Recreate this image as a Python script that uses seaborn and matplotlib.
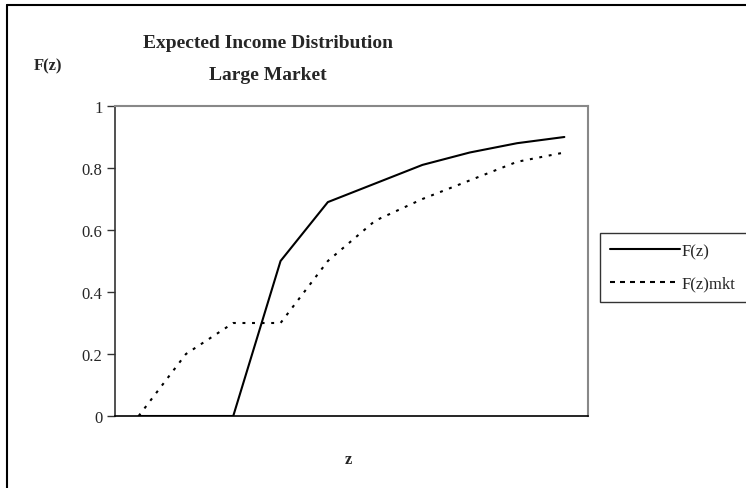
import matplotlib
matplotlib.use("Agg")
import matplotlib.pyplot as plt
from matplotlib.lines import Line2D
import seaborn as sns
import pandas as pd

# Cumulative distributions over ten income categories
categories = list(range(1, 11))
f_z = [0.0, 0.0, 0.0, 0.50, 0.69, 0.75, 0.81, 0.85, 0.88, 0.90]
f_z_mkt = [0.0, 0.20, 0.30, 0.30, 0.50, 0.63, 0.70, 0.76, 0.82, 0.85]
y_ticks = [0, 0.2, 0.4, 0.6, 0.8, 1]
y_tick_labels = ["0", "0.2", "0.4", "0.6", "0.8", "1"]

df = pd.DataFrame({
    "z": categories * 2,
    "F": f_z + f_z_mkt,
    "series": ["F(z)"] * len(f_z) + ["F(z)mkt"] * len(f_z_mkt),
})

sns.set_style("white")
plt.rcParams["font.family"] = ["Liberation Serif", "DejaVu Serif"]

fig = plt.figure(figsize=(7.46, 4.89), dpi=100)
ax = fig.add_axes([115 / 746, 1 - 417 / 489, (588 - 115) / 746, (417 - 107) / 489])

sns.lineplot(data=df, x="z", y="F", hue="series", style="series",
             palette={"F(z)": "black", "F(z)mkt": "black"},
             dashes={"F(z)": "", "F(z)mkt": (1.4, 3.2)},
             linewidth=1.5, ax=ax, legend=False)

ax.set_xlim(0.5, 10.5)
ax.set_ylim(0, 1)
ax.set_yticks(y_ticks)
ax.set_yticklabels(y_tick_labels, fontsize=12)
ax.set_xticks([])
ax.tick_params(axis="y", direction="out", length=6, width=1, color="#333333",
               left=True, pad=3)
ax.set_xlabel("")
ax.set_ylabel("")

for side in ["top", "right"]:
    ax.spines[side].set_color("#888888")
    ax.spines[side].set_linewidth(1.5)
ax.spines["left"].set_color("#333333")
ax.spines["left"].set_linewidth(1.2)
ax.spines["bottom"].set_color("black")
ax.spines["bottom"].set_linewidth(1.2)

fig.text(268 / 746, 1 - 43 / 489, "Expected Income Distribution",
         ha="center", va="center", fontsize=14, fontweight="bold")
fig.text(268 / 746, 1 - 75 / 489, "Large Market",
         ha="center", va="center", fontsize=14, fontweight="bold")
fig.text(48 / 746, 1 - 66 / 489, "F(z)", ha="center", va="center",
         fontsize=12, fontweight="bold")
fig.text(348 / 746, 1 - 460 / 489, "z", ha="center", va="center",
         fontsize=12, fontweight="bold")

handles = [
    Line2D([], [], color="black", linewidth=1.5),
    Line2D([], [], color="black", linewidth=1.5, dashes=(2.4, 2.4)),
]
leg = fig.legend(handles, ["F(z)", "F(z)mkt"], loc="upper left",
                 bbox_to_anchor=(600 / 746, 1 - 302 / 489, 170 / 746, 68 / 489),
                 mode="expand",
                 fontsize=12, handlelength=4.2, handletextpad=0.1,
                 borderpad=0.6, labelspacing=1.0, frameon=True,
                 fancybox=False, borderaxespad=0)
leg.get_frame().set_edgecolor("black")
leg.get_frame().set_linewidth(1.0)

# outer chart border (left and top edges)
fig.add_artist(Line2D([7 / 746, 7 / 746], [0, 1 - 6 / 489],
                      transform=fig.transFigure, color="black", linewidth=1.5))
fig.add_artist(Line2D([7 / 746, 1], [1 - 6 / 489, 1 - 6 / 489],
                      transform=fig.transFigure, color="black", linewidth=1.5))

fig.savefig("out.png", dpi=100)
